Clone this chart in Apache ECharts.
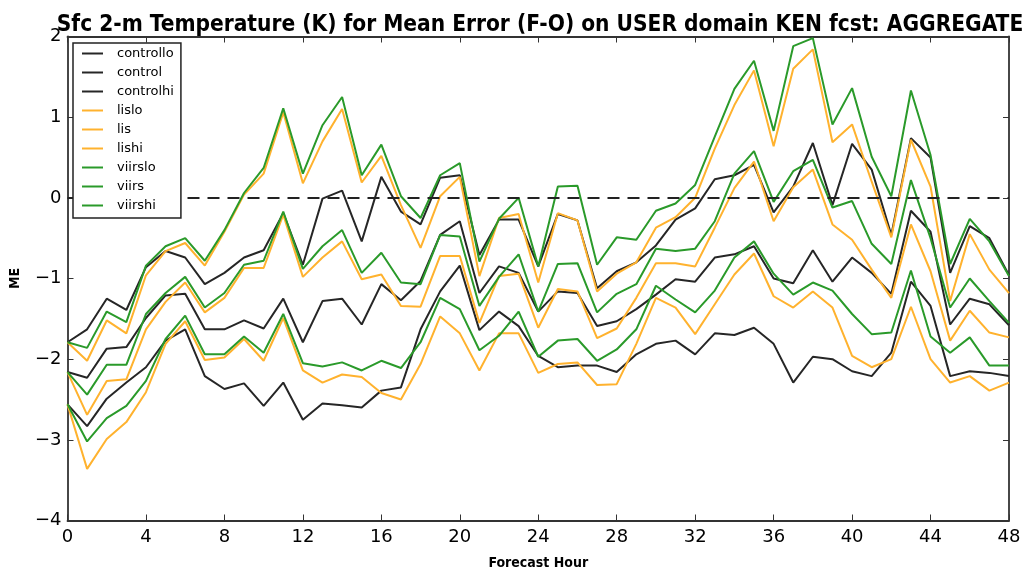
<!DOCTYPE html>
<html><head><meta charset="utf-8">
<script src="https://cdn.jsdelivr.net/npm/echarts@6/dist/echarts.min.js"></script>
<style>html,body{margin:0;padding:0;background:#fff}#c{width:1025px;height:575px}</style>
</head><body><div id="c"></div>
<script>
const hours = [0,1,2,3,4,5,6,7,8,9,10,11,12,13,14,15,16,17,18,19,20,21,22,23,24,25,26,27,28,29,30,31,32,33,34,35,36,37,38,39,40,41,42,43,44,45,46,47,48];
const xTicks = [0,4,8,12,16,20,24,28,32,36,40,44,48];
const yTicks = [-4,-3,-2,-1,0,1,2];

const controllo = [-2.56,-2.83,-2.49,-2.29,-2.10,-1.77,-1.63,-2.21,-2.37,-2.30,-2.58,-2.29,-2.75,-2.55,-2.57,-2.60,-2.39,-2.35,-1.63,-1.16,-0.84,-1.64,-1.41,-1.59,-1.96,-2.10,-2.08,-2.08,-2.16,-1.94,-1.81,-1.77,-1.94,-1.68,-1.70,-1.61,-1.81,-2.29,-1.97,-2.00,-2.15,-2.21,-1.92,-1.04,-1.34,-2.21,-2.15,-2.17,-2.21];
const control = [-2.16,-2.23,-1.87,-1.85,-1.49,-1.21,-1.19,-1.63,-1.63,-1.52,-1.62,-1.25,-1.79,-1.28,-1.25,-1.57,-1.07,-1.27,-1.03,-0.46,-0.29,-1.18,-0.85,-0.93,-1.41,-1.16,-1.18,-1.59,-1.53,-1.38,-1.20,-1.01,-1.04,-0.74,-0.70,-0.60,-1.00,-1.06,-0.65,-1.04,-0.74,-0.93,-1.19,-0.16,-0.42,-1.57,-1.25,-1.32,-1.58];
const controlhi = [-1.79,-1.63,-1.25,-1.39,-0.86,-0.66,-0.74,-1.07,-0.93,-0.74,-0.65,-0.19,-0.83,-0.01,0.09,-0.54,0.26,-0.17,-0.33,0.25,0.28,-0.71,-0.27,-0.27,-0.85,-0.20,-0.28,-1.12,-0.91,-0.80,-0.59,-0.27,-0.13,0.23,0.28,0.41,-0.18,0.14,0.68,-0.09,0.67,0.35,-0.46,0.74,0.50,-0.93,-0.35,-0.50,-0.96];
const lislo = [-2.56,-3.36,-2.99,-2.78,-2.41,-1.81,-1.53,-2.01,-1.98,-1.75,-2.02,-1.49,-2.14,-2.29,-2.19,-2.22,-2.42,-2.50,-2.06,-1.47,-1.68,-2.14,-1.68,-1.68,-2.17,-2.06,-2.04,-2.32,-2.31,-1.81,-1.24,-1.36,-1.69,-1.32,-0.95,-0.69,-1.22,-1.36,-1.16,-1.36,-1.96,-2.10,-2.00,-1.35,-2.00,-2.29,-2.21,-2.39,-2.29];
const lis = [-2.16,-2.69,-2.27,-2.25,-1.63,-1.29,-1.05,-1.42,-1.24,-0.87,-0.87,-0.21,-0.98,-0.74,-0.54,-1.01,-0.95,-1.34,-1.35,-0.72,-0.72,-1.55,-0.97,-0.94,-1.61,-1.13,-1.16,-1.74,-1.62,-1.24,-0.81,-0.81,-0.85,-0.37,0.12,0.45,-0.29,0.13,0.35,-0.33,-0.52,-0.89,-1.24,-0.33,-0.91,-1.77,-1.40,-1.67,-1.73];
const lishi = [-1.79,-2.02,-1.52,-1.68,-0.96,-0.66,-0.56,-0.84,-0.42,0.04,0.30,1.06,0.18,0.70,1.10,0.19,0.52,-0.09,-0.62,0.02,0.26,-0.97,-0.25,-0.20,-1.05,-0.19,-0.28,-1.16,-0.94,-0.80,-0.37,-0.24,0.00,0.61,1.15,1.58,0.64,1.60,1.84,0.69,0.91,0.20,-0.49,0.72,0.14,-1.28,-0.45,-0.89,-1.18];
const viirslo = [-2.56,-3.02,-2.73,-2.58,-2.27,-1.75,-1.46,-1.94,-1.94,-1.72,-1.92,-1.44,-2.05,-2.09,-2.04,-2.14,-2.02,-2.11,-1.79,-1.24,-1.38,-1.89,-1.71,-1.41,-1.97,-1.77,-1.75,-2.02,-1.88,-1.63,-1.09,-1.26,-1.42,-1.15,-0.74,-0.54,-0.94,-1.20,-1.05,-1.15,-1.44,-1.69,-1.67,-0.90,-1.72,-1.92,-1.73,-2.08,-2.08];
const viirs = [-2.16,-2.44,-2.07,-2.07,-1.44,-1.18,-0.98,-1.36,-1.18,-0.83,-0.78,-0.17,-0.88,-0.60,-0.40,-0.93,-0.68,-1.05,-1.07,-0.46,-0.48,-1.34,-0.98,-0.70,-1.41,-0.82,-0.81,-1.42,-1.19,-1.07,-0.63,-0.66,-0.63,-0.29,0.30,0.58,-0.05,0.33,0.47,-0.12,-0.04,-0.57,-0.82,0.22,-0.50,-1.36,-1.00,-1.28,-1.55];
const viirshi = [-1.79,-1.86,-1.41,-1.54,-0.84,-0.60,-0.50,-0.78,-0.40,0.06,0.37,1.11,0.30,0.90,1.25,0.28,0.66,0.02,-0.25,0.28,0.43,-0.79,-0.26,0.00,-0.85,0.14,0.15,-0.83,-0.49,-0.52,-0.16,-0.07,0.16,0.76,1.35,1.70,0.83,1.88,1.98,0.91,1.36,0.51,0.02,1.33,0.53,-0.82,-0.26,-0.54,-0.97];

const seriesNames = ['controllo','control','controlhi','lislo','lis','lishi','viirslo','viirs','viirshi'];
const seriesData = [controllo,control,controlhi,lislo,lis,lishi,viirslo,viirs,viirshi];
const seriesColors = ['#262626','#262626','#262626','#FFB22E','#FFB22E','#FFB22E','#2A9A2A','#2A9A2A','#2A9A2A'];

const FONT = "'DejaVu Sans', sans-serif";
const FONTC = "'DejaVu Sans Condensed', 'DejaVu Sans', sans-serif";
const fmt = v => String(v).replace('-', '\u2212');

const chart = echarts.init(document.getElementById('c'), null, {renderer:'canvas'});
const series = seriesNames.map((n,i)=>({
  name:n, type:'line', xAxisIndex:0, yAxisIndex:0,
  data: hours.map((h,j)=>[h, seriesData[i][j]]),
  symbol:'none', showSymbol:false, animation:false,
  lineStyle:{color:seriesColors[i], width:2},
  itemStyle:{color:seriesColors[i]},
  emphasis:{disabled:true}, z:2+i*0.01
}));
series[0].markLine = {
  silent:true, symbol:['none','none'], animation:false,
  label:{show:false},
  lineStyle:{color:'#222', type:[12,8], width:2},
  data:[{yAxis:0}]
};

const tickStyle = {show:true, inside:true, length:6, lineStyle:{color:'#333', width:1}};
const lineSt = {show:true, onZero:false, lineStyle:{color:'#333', width:1.8}};
chart.setOption({
  animation:false,
  backgroundColor:'#fff',
  title:{
    text:'Sfc 2-m Temperature (K) for Mean Error (F-O) on USER domain KEN fcst: AGGREGATE',
    left:535, top:9, textAlign:'center',
    textStyle:{fontFamily:FONTC, fontWeight:'bold', fontSize:22.5, color:'#000'}
  },
  legend:{
    orient:'vertical', left:73, top:43,
    data:seriesNames,
    icon:'rect',
    itemWidth:21, itemHeight:2, itemGap:4,
    padding:[3,7,5,9],
    backgroundColor:'#fff', borderColor:'#222', borderWidth:1.5, borderRadius:0,
    textStyle:{fontFamily:FONT, fontSize:13, color:'#000', padding:[0,0,0,9], lineHeight:15},
    selectedMode:false, z:10
  },
  grid:{left:67.5, right:16, top:36.5, bottom:53, containLabel:false},
  xAxis:[{
    type:'value', min:0, max:48, interval:4, position:'bottom',
    name:'Forecast Hour', nameLocation:'middle', nameGap:35.5,
    nameTextStyle:{fontFamily:FONTC, fontWeight:'bold', fontSize:14, color:'#000'},
    axisLine:lineSt, axisTick:tickStyle,
    axisLabel:{fontFamily:FONT, fontSize:18, color:'#000', margin:8, formatter:fmt},
    splitLine:{show:false}
  },{
    type:'value', min:0, max:48, interval:4, position:'top',
    axisLine:lineSt, axisTick:tickStyle,
    axisLabel:{show:false}, splitLine:{show:false}
  }],
  yAxis:[{
    type:'value', min:-4, max:2, interval:1, position:'left',
    name:'ME', nameLocation:'middle', nameGap:45, nameRotate:90,
    nameTextStyle:{fontFamily:FONTC, fontWeight:'bold', fontSize:14, color:'#000'},
    axisLine:lineSt, axisTick:tickStyle,
    axisLabel:{fontFamily:FONT, fontSize:18, color:'#000', margin:6, formatter:fmt},
    splitLine:{show:false}
  },{
    type:'value', min:-4, max:2, interval:1, position:'right',
    axisLine:lineSt, axisTick:tickStyle,
    axisLabel:{show:false}, splitLine:{show:false}
  }],
  series: series
});
</script></body></html>
